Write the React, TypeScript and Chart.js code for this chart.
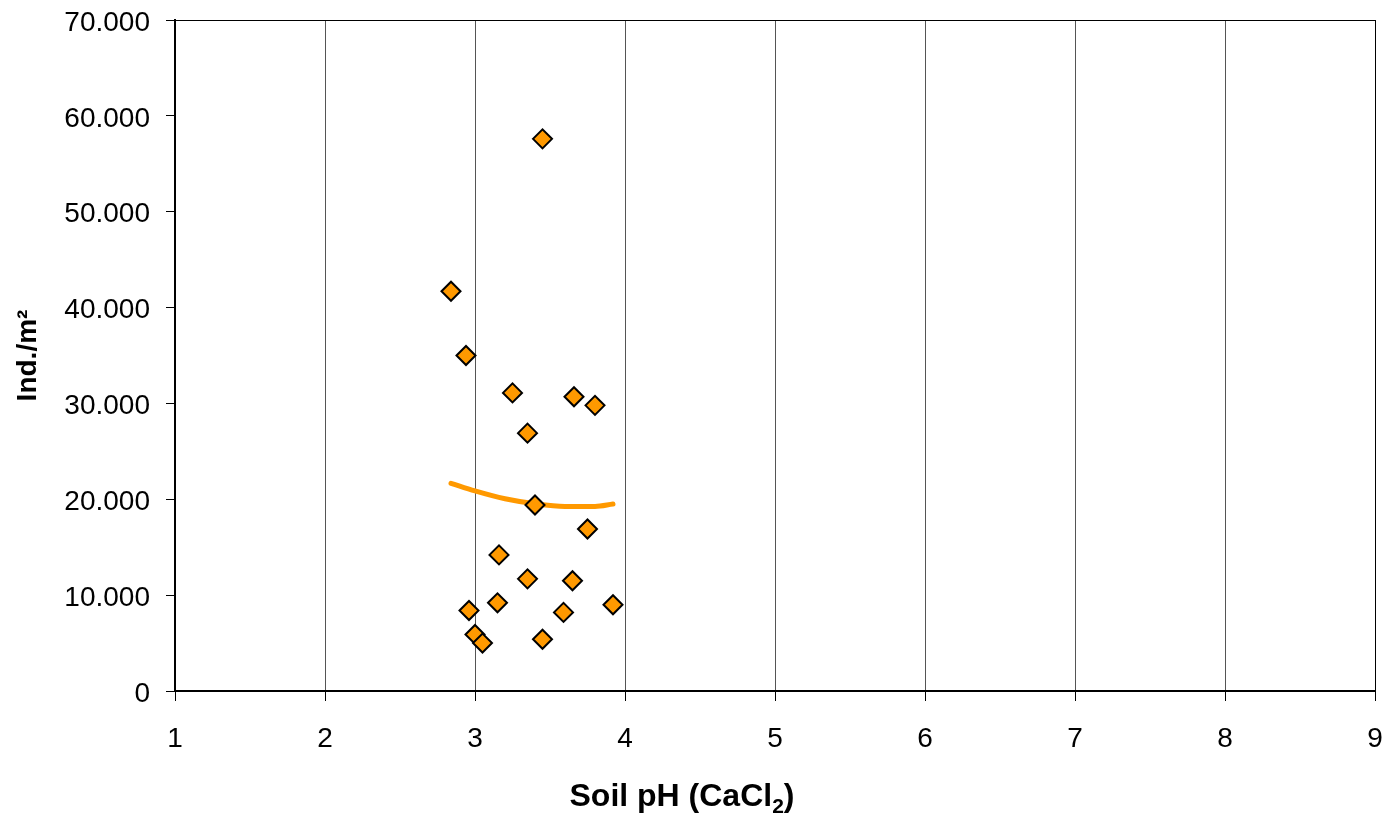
import React, { useEffect, useRef } from "react";
import { Chart, registerables } from "chart.js";

Chart.register(...registerables);

// Soil pH (x) vs individuals per m² (y)
const phValues = [2.84, 2.94, 3.45, 3.25, 3.66, 3.8, 3.35, 3.4, 3.75, 3.16, 3.35, 3.65, 2.96, 3.15, 3.59, 3.92, 3.0, 3.05, 3.45];
const densityValues = [41700, 35000, 57600, 31100, 30700, 29800, 26900, 19400, 16900, 14200, 11700, 11500, 8400, 9200, 8200, 9000, 5900, 5000, 5400];

// Trend line
const trendPh = [2.84, 3.0, 3.2, 3.4, 3.6, 3.8, 3.92];
const trendDensity = [21670, 20870, 20050, 19530, 19260, 19260, 19510];

const xTicks = [1, 2, 3, 4, 5, 6, 7, 8, 9];
const yTickStep = 10000;
const yMax = 70000;

// x title pieces: main text, subscript, closing text
const xTitleMain = "Soil pH (CaCl";
const xTitleSub = "2";
const xTitleEnd = ")";
const yTitle = "Ind./m\u00B2";

const FONT = "'Liberation Sans', Arial, sans-serif";

export default function App() {
  const ref = useRef<HTMLCanvasElement>(null);

  useEffect(() => {
    document.body.style.margin = "0";
    const canvas = ref.current;
    if (!canvas) return;

    const borderPlugin = {
      id: "plotBorder",
      afterDraw(chart: any) {
        const { ctx, chartArea } = chart;
        ctx.save();
        ctx.strokeStyle = "#000";
        ctx.lineWidth = 1;
        ctx.strokeRect(chartArea.left + 0.5, chartArea.top + 0.5, chartArea.right - chartArea.left, chartArea.bottom - chartArea.top);
        // x axis title with a real subscript
        const mainFont = `bold 32px ${FONT}`;
        const subFont = `bold 21px ${FONT}`;
        ctx.fillStyle = "#000";
        ctx.textBaseline = "alphabetic";
        ctx.textAlign = "left";
        ctx.font = mainFont;
        const w1 = ctx.measureText(xTitleMain).width;
        const w3 = ctx.measureText(xTitleEnd).width;
        ctx.font = subFont;
        const w2 = ctx.measureText(xTitleSub).width;
        const total = w1 + w2 + w3;
        const cx = 682;
        const baseY = 806;
        let x = cx - total / 2;
        ctx.font = mainFont;
        ctx.fillText(xTitleMain, x, baseY);
        x += w1;
        ctx.font = subFont;
        ctx.fillText(xTitleSub, x, baseY + 7);
        x += w2;
        ctx.font = mainFont;
        ctx.fillText(xTitleEnd, x, baseY);
        ctx.restore();
      },
    };

    const chart = new Chart(canvas, {
      type: "scatter",
      data: {
        datasets: [
          {
            label: "Trend",
            data: trendPh.map((x, i) => ({ x, y: trendDensity[i] })),
            showLine: true,
            borderColor: "#FF9900",
            backgroundColor: "#FF9900",
            borderWidth: 5,
            pointRadius: 0,
            tension: 0.4,
            cubicInterpolationMode: "monotone",
            borderCapStyle: "round",
            order: 2,
          } as any,
          {
            label: "Ind./m²",
            data: phValues.map((x, i) => ({ x, y: densityValues[i] })),
            pointStyle: "rectRot",
            pointRadius: 9.5,
            pointBackgroundColor: "#FF9900",
            pointBorderColor: "#000",
            pointBorderWidth: 2,
            showLine: false,
            order: 1,
          } as any,
        ],
      },
      options: {
        responsive: false,
        animation: false,
        layout: { padding: { top: 20, right: 21, left: 0, bottom: 0 } },
        plugins: { legend: { display: false }, tooltip: { enabled: false } },
        scales: {
          x: {
            type: "linear",
            min: xTicks[0],
            max: xTicks[xTicks.length - 1],
            afterBuildTicks: (scale: any) => {
              scale.ticks = xTicks.map((v) => ({ value: v }));
            },
            afterFit: (scale: any) => {
              scale.height = 129;
              scale.paddingLeft = 0;
              scale.paddingRight = 0;
            },
            grid: { display: true, color: "#555", lineWidth: 1, tickLength: 10, tickColor: "#000", drawTicks: true },
            border: { display: true, color: "#000", width: 2 },
            ticks: { color: "#000", font: { family: FONT, size: 28 }, padding: 21, maxRotation: 0 },
            title: { display: false },
          },
          y: {
            type: "linear",
            min: 0,
            max: yMax,
            ticks: {
              stepSize: yTickStep,
              color: "#000",
              font: { family: FONT, size: 28 },
              padding: 16,
              labelOffset: 3,
              callback: (v: any) => Number(v).toLocaleString("de-DE"),
            },
            afterFit: (scale: any) => {
              scale.width = 175;
              scale.paddingTop = 0;
              scale.paddingBottom = 0;
            },
            grid: { display: true, drawOnChartArea: false, tickLength: 9, tickColor: "#000", drawTicks: true },
            border: { display: true, color: "#000", width: 2 },
            title: {
              display: true,
              text: yTitle,
              color: "#000",
              font: { family: FONT, size: 28, weight: "bold" },
              padding: { top: 11, bottom: 0 },
            },
          },
        },
      },
      plugins: [borderPlugin],
    });

    return () => chart.destroy();
  }, []);

  return (
    <div style={{ width: 1396, height: 820, background: "#fff" }}>
      <canvas ref={ref} width={1396} height={820} style={{ display: "block" }} />
    </div>
  );
}
